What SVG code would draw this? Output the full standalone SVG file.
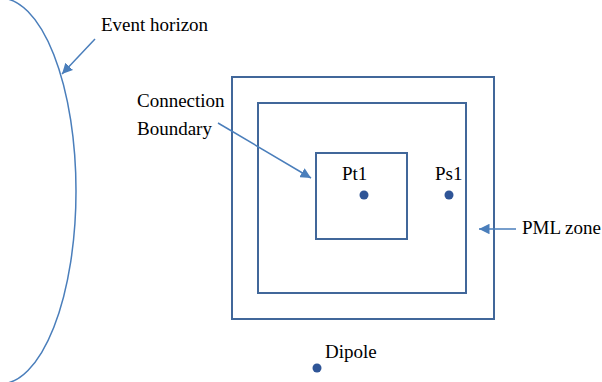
<svg xmlns="http://www.w3.org/2000/svg" width="602" height="382" viewBox="0 0 602 382">
<style>
.box{fill:none;stroke:#41679A;stroke-width:2}
.lbl{font-size:19px;fill:#000}
.arr{stroke:#4A7EBB;stroke-width:1.5;fill:none;marker-end:url(#ah)}
.dot{fill:#2F5597}
</style>
<defs>
<marker id="ah" viewBox="0 0 10 10" refX="10" refY="5" markerWidth="7" markerHeight="7" orient="auto" markerUnits="strokeWidth">
<path d="M0,0 L10,5 L0,10 z" fill="#4A7EBB"/>
</marker>
</defs>
<rect width="602" height="382" fill="#fff"/>
<g font-family="'Liberation Serif', 'DejaVu Serif', serif">
<g id="event-horizon">
<ellipse cx="0" cy="191" rx="76" ry="193" fill="none" stroke="#4A7EBB" stroke-width="1.5"/>
<text class="lbl" x="101" y="31">Event horizon</text>
</g>
<g id="pml-outer"><rect class="box" x="232" y="77" width="262" height="242"/></g>
<g id="connection-boundary"><rect class="box" x="258" y="103" width="208" height="190"/></g>
<g id="inner-box"><rect class="box" x="316" y="153" width="91" height="86"/></g>
<g id="cb-label">
<text class="lbl" x="137" y="107">Connection</text>
<text class="lbl" x="137" y="135">Boundary</text>
</g>
<g id="pt1"><circle class="dot" cx="364" cy="195" r="4.5"/><text class="lbl" x="342" y="180">Pt1</text></g>
<g id="ps1"><circle class="dot" cx="449" cy="195" r="4.5"/><text class="lbl" x="435" y="180">Ps1</text></g>
<g id="pml-label"><text class="lbl" x="522" y="234">PML zone</text></g>
<g id="dipole"><circle class="dot" cx="317" cy="368" r="4.5"/><text class="lbl" x="325" y="358">Dipole</text></g>
</g>
<g id="connectors">
<line class="arr" x1="95" y1="39" x2="62" y2="74"/>
<line class="arr" x1="218" y1="123" x2="311" y2="178"/>
<line class="arr" x1="516" y1="229" x2="479" y2="229"/>
</g>
</svg>
